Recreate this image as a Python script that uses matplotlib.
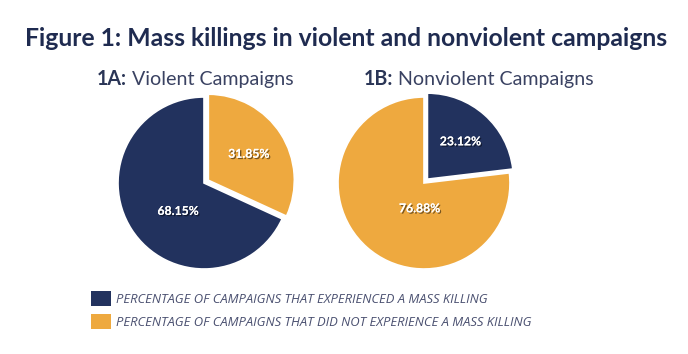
import matplotlib
matplotlib.use("Agg")
import matplotlib.pyplot as plt
from matplotlib.patches import Patch
import matplotlib.patheffects as pe

# ---- data ----
title = "Figure 1: Mass killings in violent and nonviolent campaigns"
sub_bold = ["1A:", "1B:"]
sub_rest = [" Violent Campaigns", " Nonviolent Campaigns"]
violent_vals = [31.85, 68.15]        # did not experience, experienced
nonviolent_vals = [23.12, 76.88]     # experienced, did not experience
legend_labels = ["PERCENTAGE OF CAMPAIGNS THAT EXPERIENCED A MASS KILLING",
                 "PERCENTAGE OF CAMPAIGNS THAT DID NOT EXPERIENCE A MASS KILLING"]

NAVY = "#22325e"
ORANGE = "#eea93f"
TITLE_C = "#1f2b50"
SUB_C = "#2a3556"
SUB_C2 = "#3a4262"
LEG_C = "#4a5070"

W, H = 688, 354
fig = plt.figure(figsize=(W / 100, H / 100), dpi=100)
fig.patch.set_facecolor("white")
FONT = ["Lato", "DejaVu Sans"]

fig.text(346 / W, 1 - 38 / H, title, ha="center", va="center", fontsize=17.8,
         fontweight="bold", color=TITLE_C, family=FONT)

# subtitles
fig.canvas.draw()
renderer = fig.canvas.get_renderer()
for x0, b, r in zip([97, 364], sub_bold, sub_rest):
    t = fig.text(x0 / W, 1 - 85 / H, b, ha="left", va="baseline", fontsize=14.1,
                 fontweight="bold", color=SUB_C, family=FONT)
    bb = t.get_window_extent(renderer)
    fig.text(bb.x1 / W, 1 - 85 / H, r, ha="left", va="baseline", fontsize=14.1,
             fontweight="normal", color=SUB_C2, family=FONT)

R = 86.0
def set_lims(ax):
    ax.set_xlim(-100 / R, 100 / R)
    ax.set_ylim(-100 / R, 100 / R)
    ax.set_aspect("equal")
    ax.axis("off")

def pie_axes(cx, cy):
    return fig.add_axes([(cx - 100) / W, (H - cy - 100) / H, 200 / W, 200 / H])

shadow = [pe.withSimplePatchShadow(offset=(1, -1), shadow_rgbFace="black", alpha=0.5), pe.Normal()]
lab_kw = dict(color="white", fontsize=8.8, fontweight="bold", family=FONT)

axA = pie_axes(204, 183)
wA, _, tA = axA.pie(violent_vals, colors=[ORANGE, NAVY], startangle=90, counterclock=False,
                    explode=[0.06, 0], autopct="%.2f%%", pctdistance=0.56,
                    wedgeprops=dict(edgecolor="white", linewidth=1.2), textprops=lab_kw)
tA[1].set_position((-0.30, -0.33))
for t in tA:
    t.set_path_effects(shadow)
set_lims(axA)

axB = pie_axes(424, 183)
wB, _, tB = axB.pie(nonviolent_vals, colors=[NAVY, ORANGE], startangle=90, counterclock=False,
                    explode=[0.06, 0], autopct="%.2f%%", pctdistance=0.58,
                    wedgeprops=dict(edgecolor="white", linewidth=1.2), textprops=lab_kw)
tB[1].set_position((-0.05, -0.30))
for t in tB:
    t.set_path_effects(shadow)
set_lims(axB)

handles = [Patch(facecolor=NAVY, edgecolor="none"), Patch(facecolor=ORANGE, edgecolor="none")]
leg = fig.legend(handles, legend_labels, loc="upper left", bbox_to_anchor=(79 / W, 1 - 279.5 / H),
                 frameon=False, handlelength=1.53, handleheight=1.42, handletextpad=0.38,
                 labelspacing=0.55, prop=dict(family=["Open Sans", "DejaVu Sans"], size=9.4, style="italic"))
for t in leg.get_texts():
    t.set_color(LEG_C)

fig.savefig("out.png", dpi=100)
